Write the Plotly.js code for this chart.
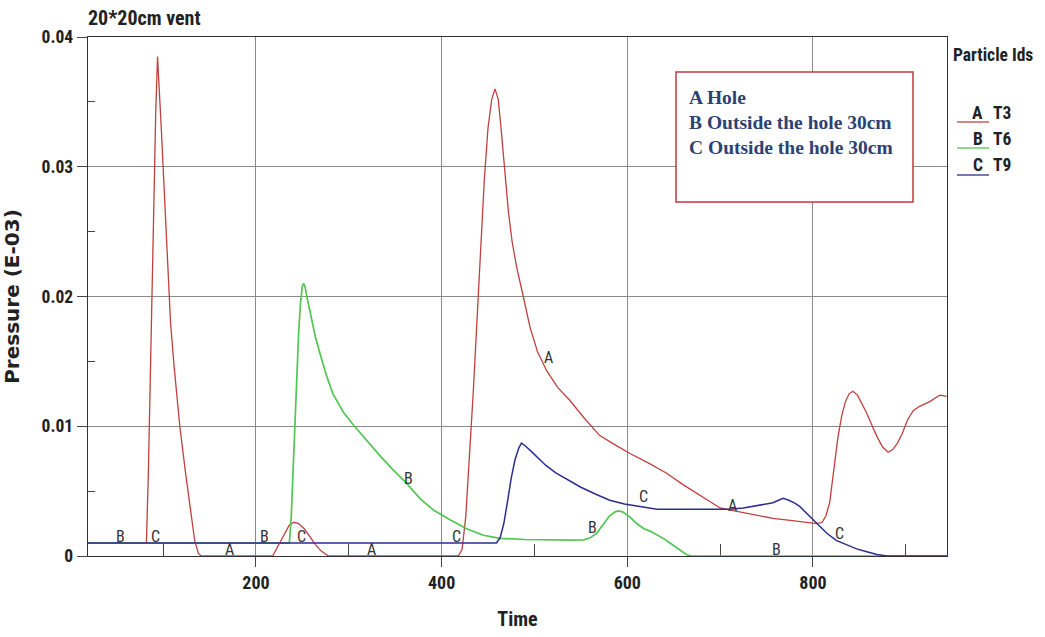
<!DOCTYPE html>
<html>
<head>
<meta charset="utf-8">
<script src="https://cdn.plot.ly/plotly-3.0.1.min.js"></script>
<style>
html,body{margin:0;padding:0;background:#fff;}
#chart{width:1045px;height:637px;}
</style>
</head>
<body>
<div id="chart"></div>
<script>
// ---- Data ----
const chartTitle = "20*20cm vent";
const xTitle = "Time";
const yTitle = "Pressure (E-03)";

const seriesNames = ["T3", "T6", "T9"];
const seriesLetters = ["A", "B", "C"];
const seriesColors = ["#c0403f", "#52c552", "#2e2e8f"];

const timeT3 = [19, 82, 84, 86, 88, 90, 92, 94, 96, 98, 100, 103, 106, 108, 112, 118, 124, 130, 134, 138, 141,
  218, 224, 230, 236, 241, 246, 252, 258, 264, 270, 278,
  418, 422, 426, 430, 434, 438, 442, 446, 450, 454, 457.5, 461, 464, 468, 472, 476, 481, 488, 495, 503, 513, 525,
  538, 554, 570, 586, 603, 622, 642, 660, 678, 690, 700, 714, 735, 757, 780, 804, 810, 814, 818, 822, 827, 831,
  835, 839, 843, 848, 853, 858, 864, 869, 875, 881, 886, 891, 896, 902, 908, 914, 920, 926, 932, 937, 944];
const pressureT3 = [0.001, 0.001, 0.006, 0.013, 0.021, 0.028, 0.034, 0.0385, 0.036, 0.033, 0.030, 0.025, 0.0205, 0.018, 0.0145, 0.010, 0.0065, 0.0032, 0.0012, 0.0002, 0,
  0, 0.0008, 0.0017, 0.0024, 0.0026, 0.0025, 0.0021, 0.0015, 0.0009, 0.0004, 0,
  0, 0.0005, 0.003, 0.0075, 0.0125, 0.018, 0.0235, 0.029, 0.033, 0.0352, 0.036, 0.0352, 0.033, 0.030, 0.0265, 0.0242, 0.0222, 0.020, 0.0177, 0.0158, 0.0143, 0.013,
  0.012, 0.0106, 0.0093, 0.0086, 0.0079, 0.0072, 0.0064, 0.0055, 0.0047, 0.0041, 0.0037, 0.0035, 0.0032, 0.0029, 0.0027, 0.0025, 0.0026, 0.0031, 0.0041, 0.0062, 0.0092, 0.0108,
  0.0119, 0.0125, 0.0127, 0.0124, 0.0117, 0.011, 0.010, 0.0092, 0.0084, 0.008, 0.0082, 0.0087, 0.0094, 0.0105, 0.0112, 0.0115, 0.0117, 0.0119, 0.0122, 0.0124, 0.0123];

const timeT6 = [19, 236, 238, 240, 242, 244, 246, 248, 250, 251.5, 253, 256, 260, 264, 269, 276, 283, 294, 305, 318, 334, 347, 361, 377, 392,
  409, 427, 445, 463, 490, 517, 540, 553, 560, 567, 574, 581, 587, 590, 595, 603, 610, 618, 625, 633, 640, 646, 652, 658, 664, 669, 944];
const pressureT6 = [0.001, 0.001, 0.003, 0.0065, 0.0105, 0.014, 0.0172, 0.0195, 0.0208, 0.021, 0.0207, 0.0196, 0.0182, 0.0169, 0.0156, 0.0139, 0.0125, 0.0111, 0.0101, 0.009, 0.0077, 0.0067, 0.0057, 0.0044, 0.0035,
  0.0028, 0.0021, 0.0016, 0.00136, 0.00127, 0.00123, 0.00122, 0.00125, 0.0014, 0.00175, 0.0024, 0.0031, 0.0034, 0.00347, 0.0034, 0.003, 0.0025, 0.0021, 0.0019, 0.0016, 0.0013, 0.001, 0.0007, 0.0004, 0.0001, 0, 0];

const timeT9 = [19, 459, 463, 467, 471, 475, 479, 483, 486, 490, 496, 503, 512, 523, 535, 550, 565, 581, 597, 614, 632, 650, 670, 690, 710,
  725, 743, 757, 763, 768, 774, 780, 786, 793, 800, 807, 815, 825, 836, 847, 858, 869, 880, 944];
const pressureT9 = [0.001, 0.001, 0.0014, 0.0025, 0.0042, 0.006, 0.0074, 0.0083, 0.0087, 0.0085, 0.0081, 0.0076, 0.0070, 0.0064, 0.0059, 0.0053, 0.0048, 0.0043, 0.0040, 0.0038, 0.0036, 0.0036, 0.0036, 0.0036, 0.0036,
  0.0037, 0.0039, 0.0041, 0.0043, 0.00445, 0.0043, 0.0041, 0.0038, 0.0033, 0.0028, 0.0023, 0.00175, 0.0012, 0.00085, 0.00055, 0.00033, 0.00012, 0, 0];

// on-curve letter labels
const labelText = ["B", "C", "A", "B", "C", "A", "C", "B", "A", "B", "C", "A", "B", "C", "A"];
const labelTime = [53.6, 91.3, 171, 209.7, 249.6, 324, 416, 364, 514.6, 563, 618, 713, 761, 829, 947];
const labelPressure = [0.0015, 0.0015, 0.0005, 0.0015, 0.0015, 0.0005, 0.0015, 0.006, 0.0153, 0.00216, 0.0046, 0.0039, 0.0005, 0.0017, 0.0129];

const xTickVals = [200, 400, 600, 800];
const xTickText = ["200", "400", "600", "800"];
const xMinorVals = [100, 300, 500, 700, 900];
const yTickVals = [0, 0.01, 0.02, 0.03, 0.04];
const yTickText = ["0", "0.01", "0.02", "0.03", "0.04"];
const yMinorVals = [0.005, 0.015, 0.025, 0.035];

const infoLines = ["A Hole", "B Outside the hole 30cm", "C Outside the hole 30cm"];
const legendTitle = "Particle Ids";

// ---- Figure ----
const narrow = "Roboto Condensed, Liberation Sans Narrow, Arial Narrow, Roboto, sans-serif";
const times = [timeT3, timeT6, timeT9];
const pressures = [pressureT3, pressureT6, pressureT9];
const widths = [1.3, 1.7, 1.5];

const traces = seriesNames.map((n, i) => ({
  type: "scatter", mode: "lines", name: n,
  x: times[i], y: pressures[i],
  line: {color: seriesColors[i], width: widths[i], shape: "linear"},
  showlegend: false, hoverinfo: "x+y+name"
}));

const annotations = [];
labelText.forEach((t, i) => annotations.push({
  text: t, x: labelTime[i], y: labelPressure[i], xref: "x", yref: "y",
  xanchor: "center", yanchor: "middle",
  showarrow: false, font: {family: narrow, size: 16, color: "#333"}
}));

// legend built from annotations + shapes (paper coords)
const PX0 = 88, PX1 = 947, PY0 = 37, PY1 = 556;
const px = v => (v - PX0) / (PX1 - PX0);
const py = v => (PY1 - v) / (PY1 - PY0);
const legFont = {family: narrow, size: 17.5, color: "#222", weight: "bold"};

annotations.push({text: legendTitle, x: px(993), y: py(55), xref: "paper", yref: "paper",
  xanchor: "center", yanchor: "middle", showarrow: false, font: legFont});
const legendRowY = [113, 139, 165];
const legendLineY = [122, 148, 175];
const shapes = [];
seriesNames.forEach((n, i) => {
  annotations.push({text: seriesLetters[i], x: px(978), y: py(legendRowY[i]), xref: "paper", yref: "paper",
    xanchor: "center", yanchor: "middle", showarrow: false, font: legFont});
  annotations.push({text: n, x: px(1002), y: py(legendRowY[i]), xref: "paper", yref: "paper",
    xanchor: "center", yanchor: "middle", showarrow: false, font: legFont});
  shapes.push({type: "line", xref: "paper", yref: "paper", x0: px(957), x1: px(989),
    y0: py(legendLineY[i]), y1: py(legendLineY[i]), line: {color: seriesColors[i], width: 1.3}});
});

// info box
shapes.push({type: "rect", xref: "paper", yref: "paper", x0: px(676), x1: px(913), y0: py(202), y1: py(72),
  line: {color: "#c0393b", width: 1.5}, fillcolor: "#ffffff", layer: "above"});
const infoY = [98, 123, 147];
infoLines.forEach((t, i) => annotations.push({
  text: t, x: px(687), y: py(infoY[i]), xref: "paper", yref: "paper", xanchor: "left", yanchor: "middle",
  showarrow: false, font: {family: "Liberation Serif, DejaVu Serif, serif", size: 19.5, color: "#2b4272", weight: "bold"}
}));

const layout = {
  width: 1045, height: 637,
  margin: {l: PX0, r: 1045 - PX1, t: PY0, b: 637 - PY1, pad: 0},
  paper_bgcolor: "#ffffff", plot_bgcolor: "#ffffff",
  title: {text: chartTitle, x: PX0 / 1045, xanchor: "left", y: 1 - 18 / 637, yanchor: "middle",
    font: {family: narrow, size: 20, color: "#222", weight: "bold"}},
  xaxis: {
    range: [19.1, 944.4], tickmode: "array", tickvals: xTickVals, ticktext: xTickText,
    ticks: "outside", ticklen: 10, tickcolor: "#444", tickwidth: 1,
    showgrid: true, gridcolor: "#8a8a8a", gridwidth: 1, zeroline: false,
    showline: true, linecolor: "#333", linewidth: 1.3, mirror: true, layer: "below traces",
    tickfont: {family: narrow, size: 18, color: "#222", weight: "bold"},
    minor: {tickmode: "array", tickvals: xMinorVals, ticks: "inside", ticklen: 12, tickcolor: "#444", showgrid: false},
    title: {text: xTitle, standoff: 20, font: {family: narrow, size: 20, color: "#222", weight: "bold"}}
  },
  yaxis: {
    range: [0, 0.04], tickmode: "array", tickvals: yTickVals, ticktext: yTickText,
    ticks: "outside", ticklen: 10, tickcolor: "#444", tickwidth: 1,
    showgrid: true, gridcolor: "#8a8a8a", gridwidth: 1, zeroline: false,
    showline: true, linecolor: "#333", linewidth: 1.3, mirror: true, layer: "below traces",
    tickfont: {family: narrow, size: 17.5, color: "#222", weight: "bold"},
    minor: {tickmode: "array", tickvals: yMinorVals, ticks: "inside", ticklen: 7, tickcolor: "#444", showgrid: false},
    title: {text: yTitle, standoff: 20, font: {family: "DejaVu Sans, Liberation Sans, sans-serif", size: 20, color: "#222", weight: "bold"}}
  },
  annotations: annotations,
  shapes: shapes,
  showlegend: false
};

Plotly.newPlot("chart", traces, layout, {displayModeBar: false, staticPlot: true});
</script>
</body>
</html>
